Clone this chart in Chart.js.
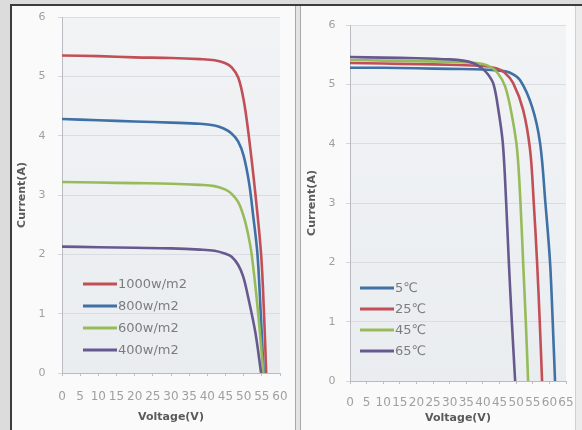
<!DOCTYPE html>
<html>
<head>
<meta charset="utf-8">
<script src="https://cdn.jsdelivr.net/npm/chart.js@4.4.1/dist/chart.umd.min.js"></script>
<style>
  body { margin: 0; width: 582px; height: 430px; overflow: hidden; background: #dcdcdc; position: relative; }
  #frame { position: absolute; left: 10px; top: 4px; width: 572px; height: 430px; border-left: 2px solid #3c3c3c; border-top: 2px solid #3c3c3c; background: #fafafa; box-sizing: border-box; }
  #divider { position: absolute; left: 295px; top: 6px; width: 4px; height: 424px; background: #e4e4e4; border-left: 1px solid #a8a8a8; border-right: 1px solid #a8a8a8; }
  #rightEdge { position: absolute; left: 575px; top: 6px; width: 7px; height: 424px; background: #ececec; border-left: 1px solid #cfcfcf; }
  .box { position: absolute; top: 6px; height: 424px; }
</style>
</head>
<body>
<div id="frame"></div>
<div class="box" style="left:13px;width:282px"><canvas id="irr" width="282" height="424"></canvas></div>
<div id="divider"></div>
<div class="box" style="left:301px;width:274px"><canvas id="temp" width="274" height="424"></canvas></div>
<div id="rightEdge"></div>
<script>
// left chart: irradiance
var irrLabels = ["1000w/m2", "800w/m2", "600w/m2", "400w/m2"];
var v1000 = [0, 10, 20, 30, 38, 42, 45, 46.7, 48.5, 50, 51.3, 53.2, 54.8, 55.6, 56.2];
var i1000 = [5.35, 5.34, 5.32, 5.31, 5.29, 5.27, 5.22, 5.15, 4.98, 4.6, 4.05, 3.03, 2.0, 1.0, 0];
var v800 = [0, 10, 20, 30, 38, 42, 44.5, 46.6, 48.5, 50, 51.5, 52.6, 53.8, 54.7, 55.5];
var i800 = [4.28, 4.26, 4.24, 4.22, 4.2, 4.17, 4.12, 4.04, 3.9, 3.66, 3.2, 2.66, 2.0, 1.0, 0];
var v600 = [0, 10, 20, 30, 38, 42, 45, 46.7, 48.5, 49.9, 51, 52.2, 54, 55.4];
var i600 = [3.22, 3.21, 3.2, 3.19, 3.17, 3.15, 3.09, 3.02, 2.88, 2.66, 2.4, 2.0, 1.0, 0];
var v400 = [0, 10, 20, 30, 38, 42, 45, 46.7, 48.5, 49.9, 51.3, 53.2, 54.8];
var i400 = [2.13, 2.12, 2.11, 2.1, 2.08, 2.06, 2.01, 1.96, 1.82, 1.62, 1.26, 0.69, 0];

// right chart: temperature
var tempLabels = ["5\u2103", "25\u2103", "45\u2103", "65\u2103"];
var v5 = [0, 10, 20, 30, 40, 45, 48, 51.2, 54.8, 57.2, 58.8, 60.2, 61.0, 61.7];
var i5 = [5.28, 5.28, 5.27, 5.26, 5.25, 5.23, 5.2, 5.07, 4.62, 4.01, 3.0, 2.0, 1.0, 0];
var v25 = [0, 10, 20, 30, 40, 44, 46.5, 49.1, 52.1, 54.2, 55.3, 56.3, 57.1, 57.8];
var i25 = [5.36, 5.35, 5.34, 5.33, 5.31, 5.27, 5.2, 5.02, 4.57, 3.89, 3.0, 2.0, 1.0, 0];
var v45 = [0, 10, 20, 30, 38, 41.3, 44.3, 46.7, 48.8, 50.3, 51.3, 52.1, 52.9, 53.6];
var i45 = [5.41, 5.4, 5.39, 5.38, 5.36, 5.32, 5.2, 4.96, 4.45, 3.89, 3.0, 2.0, 1.0, 0];
var v65 = [0, 10, 20, 30, 34, 37, 39.5, 41.5, 43.2, 44.7, 46.0, 47.0, 47.8, 48.7, 49.7];
var i65 = [5.46, 5.45, 5.44, 5.42, 5.40, 5.36, 5.28, 5.17, 5.0, 4.55, 4.0, 3.0, 2.0, 1.0, 0];

var colors = ["#c24f57", "#3f70a6", "#97bb5a", "#67598f"];
var tempColors = ["#3f70a6", "#c24f57", "#97bb5a", "#67598f"];

function pts(xs, ys) {
  return xs.map(function (x, k) { return { x: x, y: ys[k] }; });
}

function series(label, xs, ys, color, order) {
  return {
    label: label,
    data: pts(xs, ys),
    borderColor: color,
    backgroundColor: color,
    borderWidth: 2.6,
    pointRadius: 0,
    tension: 0.35,
    order: order
  };
}

// plot background
var plotBg = {
  id: "plotBg",
  beforeDraw: function (chart) {
    var a = chart.chartArea, ctx = chart.ctx;
    var g = ctx.createLinearGradient(0, a.top, 0, a.bottom);
    g.addColorStop(0, "#f1f3f5");
    g.addColorStop(1, "#eaedf0");
    ctx.save();
    ctx.fillStyle = g;
    ctx.fillRect(a.left, a.top, a.right - a.left, a.bottom - a.top);
    ctx.restore();
  }
};

// legend drawn inside the plot
var insideLegend = {
  id: "insideLegend",
  afterDatasetsDraw: function (chart, args, opts) {
    var ctx = chart.ctx;
    ctx.save();
    ctx.font = "13px 'DejaVu Sans'";
    ctx.textBaseline = "middle";
    chart.data.datasets.forEach(function (ds, k) {
      var y = opts.y + k * opts.gap;
      ctx.strokeStyle = ds.borderColor;
      ctx.lineWidth = 3;
      ctx.beginPath();
      ctx.moveTo(opts.x, y);
      ctx.lineTo(opts.x + 34, y);
      ctx.stroke();
      ctx.fillStyle = "#7c7c7c";
      ctx.fillText(ds.label, opts.x + 35, y + 1);
    });
    ctx.restore();
  }
};

function noPad(s) {
  s.paddingLeft = 0; s.paddingRight = 0; s.paddingTop = 0; s.paddingBottom = 0;
}

function makeOptions(xMax, pad, yWidth, xHeight, tickPadY, tickPadX, titlePadY, titlePadX, legend) {
  return {
    responsive: false,
    animation: false,
    layout: { padding: pad },
    plugins: { legend: { display: false }, tooltip: { enabled: false }, insideLegend: legend },
    scales: {
      x: {
        type: "linear",
        min: 0,
        max: xMax,
        afterFit: function (s) { s.height = xHeight; noPad(s); },
        ticks: { stepSize: 5, autoSkip: false, maxRotation: 0, padding: tickPadX, color: "#a0a0a0", font: { family: "DejaVu Sans", size: 12 } },
        grid: { drawOnChartArea: false, drawTicks: true, tickLength: 3, tickColor: "#c0c0c0" },
        border: { color: "#b8bcc0" },
        title: { display: true, text: "Voltage(V)", color: "#5a5a5a", padding: { top: 0, bottom: titlePadX }, font: { family: "DejaVu Sans", size: 11, weight: "bold" } }
      },
      y: {
        min: 0,
        max: 6,
        afterFit: function (s) { s.width = yWidth; noPad(s); },
        ticks: { stepSize: 1, padding: tickPadY, color: "#a0a0a0", font: { family: "DejaVu Sans", size: 11 } },
        grid: { color: "#d9dde1", tickLength: 4, tickColor: "#d4d8dc" },
        border: { color: "#b8bcc0" },
        title: { display: true, text: "Current(A)", color: "#5a5a5a", padding: { top: titlePadY, bottom: 0 }, font: { family: "DejaVu Sans", size: 11, weight: "bold" } }
      }
    }
  };
}

new Chart(document.getElementById("irr").getContext("2d"), {
  type: "line",
  data: {
    datasets: [
      series(irrLabels[0], v1000, i1000, colors[0], 4),
      series(irrLabels[1], v800, i800, colors[1], 3),
      series(irrLabels[2], v600, i600, colors[2], 2),
      series(irrLabels[3], v400, i400, colors[3], 1)
    ]
  },
  options: makeOptions(60, { left: 0, top: 11, right: 15, bottom: 0 }, 49, 57, 12.5, 14, 2.4, 6.4, { x: 70, y: 278, gap: 22 }),
  plugins: [plotBg, insideLegend]
});

new Chart(document.getElementById("temp").getContext("2d"), {
  type: "line",
  data: {
    datasets: [
      series(tempLabels[0], v5, i5, tempColors[0], 4),
      series(tempLabels[1], v25, i25, tempColors[1], 3),
      series(tempLabels[2], v45, i45, tempColors[2], 2),
      series(tempLabels[3], v65, i65, tempColors[3], 1)
    ]
  },
  options: makeOptions(65, { left: 0, top: 19, right: 9, bottom: 0 }, 49, 49, 10.5, 12, 4.4, 5.4, { x: 59, y: 282, gap: 21 }),
  plugins: [plotBg, insideLegend]
});
</script>
</body>
</html>
